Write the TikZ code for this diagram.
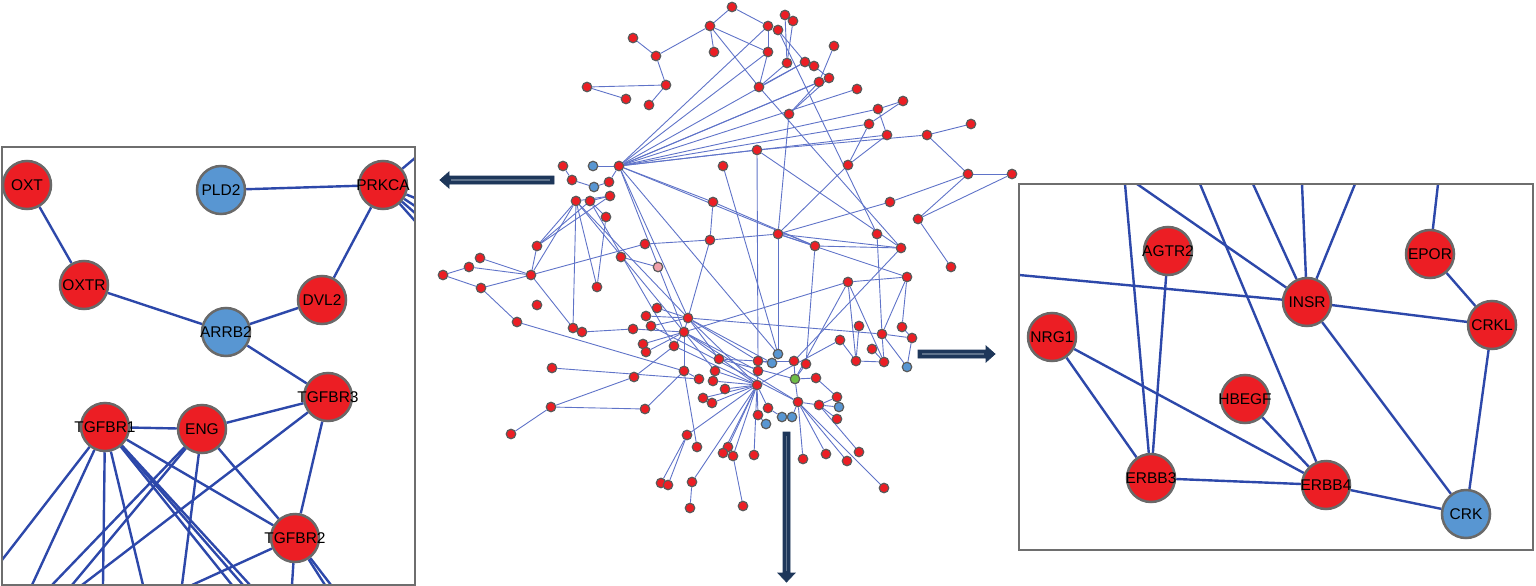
\documentclass[tikz,border=0pt]{standalone}
\usepackage{fontspec}
\setmainfont{Liberation Sans}
\pgfdeclarelayer{bg}
\pgfsetlayers{bg,main}
\definecolor{nr}{RGB}{236,30,36}
\definecolor{nb}{RGB}{88,150,210}
\definecolor{ng}{RGB}{110,190,70}
\definecolor{np}{RGB}{240,160,170}
\definecolor{ngray}{RGB}{105,105,105}
\definecolor{sgray}{RGB}{90,90,90}
\definecolor{pline}{RGB}{45,72,170}
\definecolor{cline}{RGB}{95,115,200}
\definecolor{navy}{RGB}{30,55,90}
\definecolor{navyl}{RGB}{95,115,140}
\definecolor{boxc}{RGB}{110,110,110}
\newcommand{\zw}[1]{\makebox[0pt]{#1}}
\begin{document}
\begin{tikzpicture}[x=1pt,y=-1pt,
  big/.style={circle,minimum size=48pt,inner sep=0pt,draw=ngray,line width=2.5pt,font=\fontsize{15.5}{16}\selectfont},
  sn/.style={circle,minimum size=9.5pt,inner sep=0pt,draw=sgray,line width=1.2pt},
  pe/.style={draw=pline,line width=2.4pt},
  ce/.style={draw=cline,line width=0.9pt},
  arr/.style={fill=navy,draw=navy,line width=0.8pt},
  arrin/.style={draw=navyl,line width=1.2pt},
  panel/.style={draw=boxc,line width=1.5pt}]
\useasboundingbox (0,0) rectangle (1536,586);

% ---------------- central network nodes ----------------
\foreach \n/\x/\y/\c in {
 a1/732/7/nr,a2/710/26/nr,a3/714/52/nr,a4/633/38/nr,a5/656/56/nr,a6/666/85/nr,a7/587/87/nr,a8/626/99/nr,a9/649/105/nr,
 b1/785/15/nr,b2/793/21/nr,b3/768/26/nr,b4/778/30/nr,b5/768/52/nr,b6/787/63/nr,b7/805/62/nr,b8/814/66/nr,b9/834/46/nr,
 b10/829/78/nr,b11/819/82/nr,b12/759/87/nr,b13/857/89/nr,b14/789/114/nr,b15/903/101/nr,b16/878/109/nr,b17/869/124/nr,
 b18/887/135/nr,b19/927/135/nr,b20/971/124/nr,b21/757/150/nr,b22/723/166/nr,b23/848/165/nr,b24/968/174/nr,b25/1012/174/nr,
 b26/890/202/nr,b27/918/219/nr,b28/951/267/nr,
 c1/778/234/nr,c2/815/246/nr,c3/877/234/nr,c4/901/248/nr,c5/848/282/nr,c6/907/277/nr,c7/859/326/nr,c8/902/327/nr,
 c9/882/334/nr,c10/912/338/nr,c11/840/340/nr,c12/872/349/nr,c13/856/361/nr,c14/884/362/nr,c15/907/367/nb,
 d1/563/166/nr,d2/593/166/nb,d3/619/166/nr,d4/572/180/nr,d5/594/187/nb,d6/609/182/nr,d7/610/196/nr,d8/576/201/nr,
 d9/590/201/nr,d10/606/217/nr,d11/713/202/nr,d12/710/240/nr,d13/645/244/nr,d14/537/246/nr,d15/621/257/nr,d16/658/267/np,
 d17/480/258/nr,d18/469/267/nr,d19/443/275/nr,d20/531/275/nr,d21/481/288/nr,d22/597/287/nr,d23/537/305/nr,d24/517/322/nr,
 d25/573/328/nr,d26/582/332/nr,
 e1/657/308/nr,e2/646/316/nr,e3/651/326/nr,e4/633/329/nr,e5/688/318/nr,e6/684/332/nr,e7/643/344/nr,e8/646/352/nr,
 e9/674/346/nr,e10/719/359/nr,e11/758/361/nr,e12/772/363/nb,e13/778/354/nb,e14/794/361/nr,e15/806/364/nr,e16/684/371/nr,
 e17/715/371/nr,e18/758/371/nr,e19/699/379/nr,e20/713/381/nr,e21/795/379/ng,e22/816/378/nr,e23/725/389/nr,e24/757/385/nr,
 e25/634/377/nr,e26/703/398/nr,e27/712/403/nr,e28/798/402/nr,e29/819/405/nr,e30/837/397/nr,e31/839/407/nb,e32/837/419/nr,
 e33/768/408/nr,e34/758/415/nr,e35/782/417/nb,e36/792/417/nb,e37/766/424/nb,e38/645/409/nr,e39/552/368/nr,e40/551/407/nr,
 e41/511/434/nr,
 f1/687/435/nr,f2/697/447/nr,f3/728/447/nr,f4/723/453/nr,f5/733/456/nr,f6/754/455/nr,f7/803/459/nr,f8/826/454/nr,
 f9/859/452/nr,f10/847/461/nr,f11/661/483/nr,f12/668/485/nr,f13/692/482/nr,f14/690/508/nr,f15/743/506/nr,f16/884/488/nr}
 \node[sn,fill=\c] (\n) at (\x,\y) {};

% ---------------- panel nodes ----------------
\node[big,fill=nr] (OXT) at (27,185) {\zw{OXT}};
\node[big,fill=nb] (PLD2) at (221,190) {\zw{PLD2}};
\node[big,fill=nr] (PRKCA) at (383,185) {\zw{PRKCA}};
\node[big,fill=nr] (OXTR) at (84,285) {\zw{OXTR}};
\node[big,fill=nr] (DVL2) at (322,300) {\zw{DVL2}};
\node[big,fill=nb] (ARRB2) at (226,332) {\zw{ARRB2}};
\node[big,fill=nr] (TGFBR3) at (328,397) {\zw{TGFBR3}};
\node[big,fill=nr] (TGFBR1) at (105,427) {\zw{TGFBR1}};
\node[big,fill=nr] (ENG) at (202,429) {\zw{ENG}};
\node[big,fill=nr] (TGFBR2) at (295,538) {\zw{TGFBR2}};

\node[big,fill=nr] (AGTR2) at (1168,251) {\zw{AGTR2}};
\node[big,fill=nr] (EPOR) at (1430,254) {\zw{EPOR}};
\node[big,fill=nr] (INSR) at (1307,302) {\zw{INSR}};
\node[big,fill=nr] (CRKL) at (1492,325) {\zw{CRKL}};
\node[big,fill=nr] (NRG1) at (1052,337) {\zw{NRG1}};
\node[big,fill=nr] (HBEGF) at (1245,399) {\zw{HBEGF}};
\node[big,fill=nr] (ERBB3) at (1151,478) {\zw{ERBB3}};
\node[big,fill=nr] (ERBB4) at (1326,485) {\zw{ERBB4}};
\node[big,fill=nb] (CRK) at (1466,514) {\zw{CRK}};

% free ends on the panel borders
\foreach \n/\x/\y in {p1/415/158,p2/415/198,p3/415/206,p4/415/213,p5/415/221,
 t1/2/560,t2/32/585,t3/103/585,t4/143/585,t5/232/585,t6/243/585,t7/250/585,
 g1/52/585,g2/72/585,g3/182/585,h1/82/585,k1/192/585,k2/292/585,k3/325/585,k4/331/585,
 r1/1125/184,r2/1137/184,r3/1200/184,r4/1253/184,r5/1302/184,r6/1355/184,r7/1438/184,r8/1019/275}
 \coordinate (\n) at (\x,\y);

\begin{pgfonlayer}{bg}
% central edges
\foreach \a/\b in {
 a1/a2,a2/a3,a2/a5,a5/a4,a5/a6,a6/a7,a7/a8,a6/a9,a1/b3,a2/b12,a2/b5,
 b1/b6,b2/b6,b3/b5,b4/b7,b4/c3,b5/b12,b6/b12,b7/b12,b9/b11,b8/b10,b14/b10,b14/b11,
 b12/c4,b13/d3,b15/b16,b15/b17,b16/b18,b17/b23,b18/b23,b19/b20,b19/b24,b21/b19,b24/b25,b24/b27,b25/b27,b27/b28,
 b24/b26,b26/c1,b14/c1,b22/e13,b21/c4,b21/e11,b23/c1,
 d3/b3,d3/b5,d3/b7,d3/b10,d3/b11,d3/b16,d3/b17,d3/b18,d3/b21,d3/d11,d3/c2,d3/e13,d3/e5,d3/e6,
 d1/d4,d4/d5,d5/d6,d6/d3,d2/d3,d7/d8,d7/d9,d7/d14,d8/d14,d8/d20,d8/d25,d8/d22,d8/e5,d8/e6,d9/d14,d9/d10,d9/e9,
 d10/d22,d14/d20,d20/d13,d20/d17,d20/d21,d20/d25,d18/d19,d18/d20,d19/d21,d21/d24,d13/d12,d12/c1,d11/d12,d11/c2,
 d15/d16,d12/e5,d24/e16,d26/e4,d25/d26,
 e5/e1,e5/e2,e5/e3,e5/e6,e6/e9,e6/e7,e6/e8,e4/e6,e5/e10,e6/e16,e6/e17,e5/e24,e6/e24,e5/e11,e6/e28,e16/e19,e17/e24,
 e10/e11,e11/e12,c1/e13,e14/e21,e15/e21,e21/e28,e21/e22,e22/e30,e28/e29,e29/e30,e29/e31,e29/e32,e24/e33,e24/e34,
 e24/e26,e24/e27,e24/e23,e24/e20,e24/f3,e24/f4,e24/f5,e24/f6,e24/f1,e24/f13,f1/f11,f1/f12,f13/f14,f5/f15,
 e28/f7,e28/f8,e28/f10,e28/f16,e29/f9,e16/f2,e38/e16,e40/e38,e40/e41,e40/e25,e25/e9,e39/e19,e5/c9,e6/c5,e24/c11,
 e21/c5,e11/e14,e18/e24,e34/e37,e33/e35,e28/e36,e10/e21,e5/e12,e6/e18,e9/e24,e3/e28,
 c1/c2,c1/c6,c1/c4,c2/c4,c2/e15,c4/e14,c3/c9,c5/c6,c5/c13,c5/c14,c6/c8,c6/c9,c7/c13,c11/c13,c9/c10,c10/c15,c9/c15,
 c12/c14,c13/c14,c9/c14,c8/c10}
 \draw[ce] (\a) -- (\b);

% left panel edges
\foreach \a/\b in {OXT/OXTR,PLD2/PRKCA,PRKCA/DVL2,OXTR/ARRB2,ARRB2/DVL2,ARRB2/TGFBR3,TGFBR1/ENG,ENG/TGFBR3,
 TGFBR3/TGFBR2,TGFBR1/TGFBR2,ENG/TGFBR2,
 PRKCA/p1,PRKCA/p2,PRKCA/p3,PRKCA/p4,PRKCA/p5,
 TGFBR1/t1,TGFBR1/t2,TGFBR1/t3,TGFBR1/t4,TGFBR1/t5,TGFBR1/t6,TGFBR1/t7,
 ENG/g1,ENG/g2,ENG/g3,TGFBR3/h1,TGFBR2/k1,TGFBR2/k2,TGFBR2/k3,TGFBR2/k4}
 \draw[pe] (\a) -- (\b);

% right panel edges
\foreach \a/\b in {INSR/CRKL,EPOR/CRKL,CRKL/CRK,INSR/CRK,ERBB4/CRK,ERBB3/ERBB4,NRG1/ERBB3,NRG1/ERBB4,
 HBEGF/ERBB4,AGTR2/ERBB3,
 ERBB3/r1,INSR/r2,ERBB4/r3,INSR/r4,INSR/r5,INSR/r6,EPOR/r7,INSR/r8}
 \draw[pe] (\a) -- (\b);
\end{pgfonlayer}

% panel frames
\draw[panel] (2,147) rectangle (415,585);
\draw[panel] (1019,184) rectangle (1533,550);

% block arrows
\draw[arr] (554,176) -- (449,176) -- (449,172) -- (440,180) -- (449,188) -- (449,184) -- (554,184) -- cycle;
\draw[arrin] (550,180) -- (451,180);
\draw[arr] (918,350) -- (986,350) -- (986,346) -- (995,354) -- (986,362) -- (986,358) -- (918,358) -- cycle;
\draw[arrin] (922,354) -- (984,354);
\draw[arr] (783,432) -- (790,432) -- (790,573) -- (795,573) -- (786.5,582) -- (778,573) -- (783,573) -- cycle;
\draw[arrin] (786.5,436) -- (786.5,571);
\end{tikzpicture}
\end{document}
